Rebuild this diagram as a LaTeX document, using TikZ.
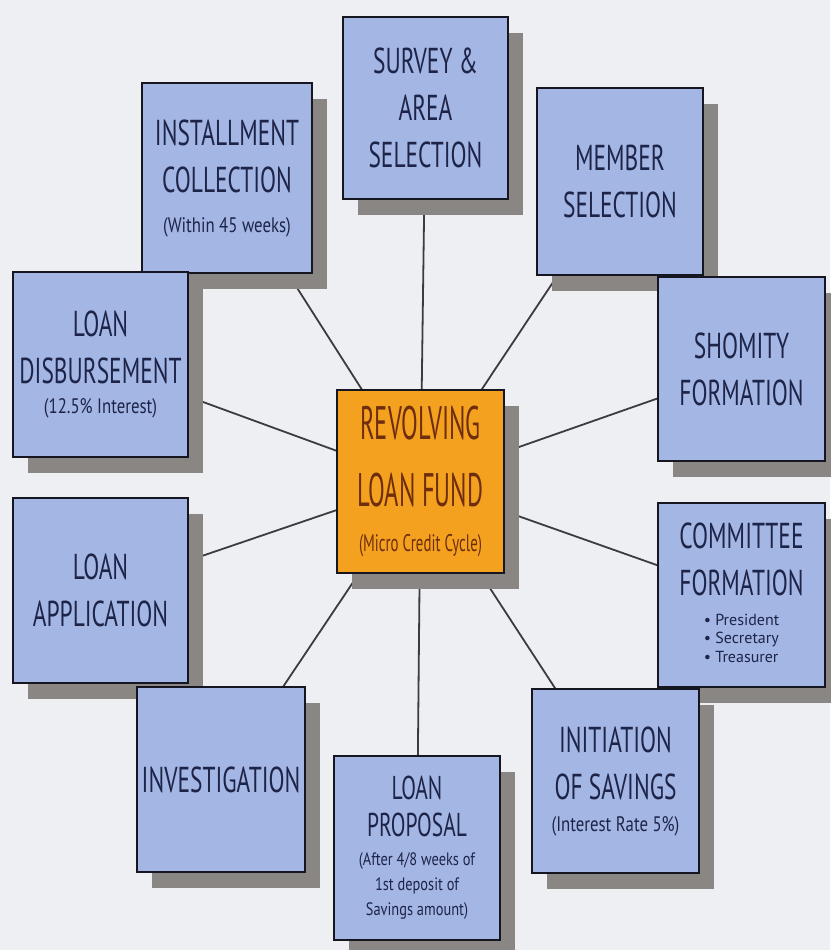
\documentclass[tikz,border=0pt]{standalone}
\usepackage{fontspec}
\setmainfont{PT Sans}
\newfontfamily\boxfont{PT Sans}[FakeStretch=0.65]
\newfontfamily\subfont{PT Sans}[FakeStretch=0.8]
\newfontfamily\ctrfont{PT Sans}[FakeStretch=0.52]
\newfontfamily\ctrsubfont{PT Sans}[FakeStretch=0.62]
\usetikzlibrary{shadows}
\definecolor{pagebg}{HTML}{EDEFF3}
\definecolor{boxblue}{HTML}{A3B6E4}
\definecolor{boxline}{HTML}{15161F}
\definecolor{boxtext}{HTML}{1E2448}
\definecolor{shadowgray}{HTML}{8A8684}
\definecolor{ctrorange}{HTML}{F4A11F}
\definecolor{ctrtext}{HTML}{6E2E0E}
\definecolor{linkgray}{HTML}{3C3C40}
\newcommand\subtxt[1]{{\subfont\fontsize{21}{24}\selectfont #1}}
\newcommand\smallsubtxt[1]{{\subfont\fontsize{18}{21}\selectfont #1}}
\pgfdeclarelayer{bg}
\pgfdeclarelayer{links}
\pgfsetlayers{bg,links,main}
\tikzset{
  card/.style={rectangle, draw=boxline, line width=2pt, fill=boxblue, text=boxtext,
    inner sep=0pt, align=center, font=\boxfont\fontsize{36}{47}\selectfont,
    drop shadow={shadow xshift=15pt, shadow yshift=-16pt, fill=shadowgray, opacity=1}},
  hub/.style={card, fill=ctrorange, text=ctrtext, font=\ctrfont\fontsize{47}{67}\selectfont},
  link/.style={draw=linkgray, line width=1.8pt},
}
\begin{document}
\begin{tikzpicture}[x=1pt,y=-1pt]
\begin{pgfonlayer}{bg}
  \fill[pagebg] (0,0) rectangle (830,950);
\end{pgfonlayer}
\useasboundingbox (0,0) rectangle (830,950);

\node[card, minimum width=165pt, minimum height=182pt] (survey) at (425.5,108)
  {SURVEY \&\\AREA\\SELECTION};
\node[card, minimum width=170pt, minimum height=190pt] (install) at (227,178)
  {INSTALLMENT\\COLLECTION\\[-7pt]\subtxt{(Within 45 weeks)}};
\node[card, minimum width=175pt, minimum height=185pt] (disburse) at (100.5,364.5)
  {LOAN\\DISBURSEMENT\\[-17pt]\subtxt{(12.5\% Interest)}};
\node[card, minimum width=175pt, minimum height=185pt] (apply) at (100.5,590.5)
  {LOAN\\APPLICATION};
\node[card, minimum width=168pt, minimum height=185pt] (invest) at (221,779.5)
  {INVESTIGATION};
\node[card, minimum width=166pt, minimum height=184pt, font=\boxfont\fontsize{33}{37}\selectfont] (proposal) at (417,848)
  {LOAN\\PROPOSAL\\[-8pt]\smallsubtxt{(After 4/8 weeks of}\\[-12pt]\smallsubtxt{1st deposit of}\\[-12pt]\smallsubtxt{Savings amount)}};
\node[card, minimum width=166pt, minimum height=187pt] (member) at (620,181.5)
  {MEMBER\\SELECTION};
\node[card, minimum width=167pt, minimum height=184pt] (shomity) at (741.5,369)
  {SHOMITY\\FORMATION};
\node[card, minimum width=167pt, minimum height=184pt] (committee) at (741.5,595)
  {COMMITTEE\\FORMATION\\[-17pt]{\fontsize{16}{18.5}\selectfont\rmfamily\begin{tabular}[t]{@{}l@{}}\textbullet\ President\\\textbullet\ Secretary\\\textbullet\ Treasurer\end{tabular}}};
\node[card, minimum width=167pt, minimum height=184pt] (saving) at (615.5,781)
  {INITIATION\\OF SAVINGS\\[-15pt]\subtxt{(Interest Rate 5\%)}};
\node[hub, minimum width=167pt, minimum height=183pt] (fund) at (420.5,481.5)
  {REVOLVING\\LOAN FUND\\[-22pt]{\ctrsubfont\fontsize{24}{28}\selectfont (Micro Credit Cycle)}};

\begin{pgfonlayer}{links}
  \foreach \n in {survey,install,disburse,apply,invest,proposal,member,shomity,committee,saving}
    \draw[link] (fund.center) -- (\n.center);
\end{pgfonlayer}
\end{tikzpicture}
\end{document}
